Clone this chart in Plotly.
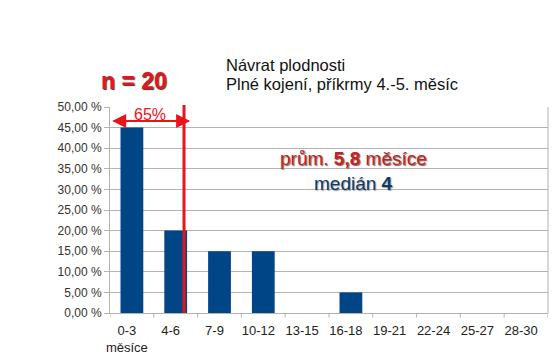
import plotly.graph_objects as go

categories = ["0-3<br>měsíce", "4-6", "7-9", "10-12", "13-15", "16-18", "19-21", "22-24", "25-27", "28-30"]
values = [45, 20, 15, 15, 0, 5, 0, 0, 0, 0]
y_ticks = [0, 5, 10, 15, 20, 25, 30, 35, 40, 45, 50]
y_tick_labels = [f"{v:.2f}".replace(".", ",") + " %" for v in y_ticks]
marker_pos = 1.19       # red vertical marker (category units)
share_label = "65%"
title_lines = ["Návrat plodnosti", "Plné kojení, příkrmy 4.-5. měsíc"]
n_text = "n = 20"
mean_text = "prům. <b>5,8</b> měsíce"
median_text = "medián <b>4</b>"

FONT = "Liberation Sans, Arial, sans-serif"
L, R, T, B = 110, 10, 107, 51
W, H = 558, 364
PW, PH = W - L - R, H - T - B


def px(x):
    return (x - L) / PW


def py(y):
    return (H - B - y) / PH


fig = go.Figure()
fig.add_trace(go.Bar(
    x=list(range(len(categories))), y=values,
    marker=dict(color="#004586", line=dict(color="#004586", width=0)),
    width=0.52, hoverinfo="skip",
))

fig.update_layout(
    width=W, height=H,
    margin=dict(l=L, r=R, t=T, b=B),
    paper_bgcolor="white", plot_bgcolor="white",
    showlegend=False,
    font=dict(family=FONT, size=12, color="#333333"),
)
fig.update_xaxes(
    range=[-0.5, len(categories) - 0.5],
    tickmode="array", tickvals=list(range(len(categories))), ticktext=categories,
    showgrid=False, showline=True, linecolor="#b3b3b3", linewidth=1,
    ticks="", tickfont=dict(size=13, color="#222222"),
    ticklabelshift=-5, ticklabelstandoff=5,
    zeroline=False,
)
fig.update_yaxes(
    range=[0, 50], tickmode="array", tickvals=y_ticks, ticktext=y_tick_labels,
    showgrid=True, gridcolor="#b3b3b3", gridwidth=1,
    showline=True, linecolor="#b3b3b3", linewidth=1,
    ticks="outside", ticklen=5, tickcolor="#b3b3b3",
    tickfont=dict(size=12, color="#333333"),
    zeroline=False,
)

# x tick marks at category boundaries
for i in range(len(categories) + 1):
    fig.add_shape(type="line", xref="x", yref="paper",
                  x0=i - 0.5, x1=i - 0.5, y0=0, y1=-0.022,
                  line=dict(color="#b3b3b3", width=1))
# right border
fig.add_shape(type="line", xref="paper", yref="paper", x0=1, x1=1, y0=0, y1=1,
              line=dict(color="#b3b3b3", width=1))

# red vertical marker
fig.add_shape(type="line", xref="x", yref="paper", x0=marker_pos, x1=marker_pos,
              y0=0, y1=py(105), line=dict(color="#e8141b", width=3))

# double arrow
arrow_y = 46.6
left_end, right_end = -0.45, marker_pos + 0.14
for (a, b) in [(left_end, right_end), (right_end, left_end)]:
    fig.add_annotation(x=b, y=arrow_y, ax=a, ay=arrow_y, xref="x", yref="y",
                       axref="x", ayref="y", showarrow=True, arrowhead=2,
                       arrowsize=1.4, arrowwidth=2, arrowcolor="#e8141b", text="")
fig.add_annotation(xref="paper", yref="paper", x=px(150), y=py(114),
                   xanchor="center", yanchor="middle",
                   text=share_label, showarrow=False,
                   font=dict(family=FONT, size=16, color="#e8141b"))

# titles
fig.add_annotation(xref="paper", yref="paper", x=px(224), y=py(65),
                   xanchor="left", yanchor="middle", align="left",
                   text=title_lines[0], showarrow=False,
                   font=dict(family=FONT, size=16.5, color="#111111"))
fig.add_annotation(xref="paper", yref="paper", x=px(224), y=py(84),
                   xanchor="left", yanchor="middle", align="left",
                   text=title_lines[1], showarrow=False,
                   font=dict(family=FONT, size=16.5, color="#111111"))

fig.add_annotation(xref="paper", yref="paper", x=px(134), y=py(81),
                   xanchor="center", yanchor="middle", text="<b>" + n_text + "</b>", showarrow=False,
                   font=dict(family=FONT, size=23, color="#e8141b", shadow="1px 1px 1px #333"))

fig.add_annotation(xref="paper", yref="paper", x=px(353), y=py(158),
                   xanchor="center", yanchor="middle", text=mean_text, showarrow=False,
                   font=dict(family=FONT, size=19, color="#c9211e", shadow="1px 1px 1px #666"))
fig.add_annotation(xref="paper", yref="paper", x=px(353), y=py(183),
                   xanchor="center", yanchor="middle", text=median_text, showarrow=False,
                   font=dict(family=FONT, size=19, color="#0f3d6b", shadow="1px 1px 1px #999"))

fig.write_html("out.html", config={"displayModeBar": False},
               post_script="document.body.style.margin='0px';")
